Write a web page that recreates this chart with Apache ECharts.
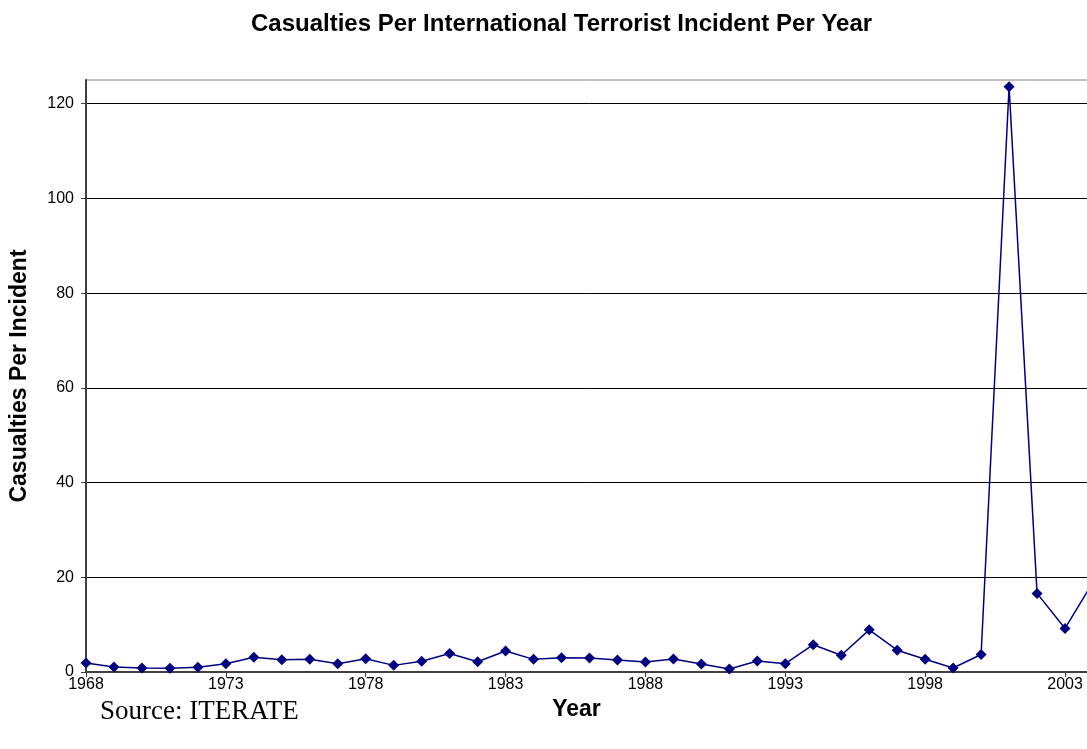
<!DOCTYPE html>
<html>
<head>
<meta charset="utf-8">
<script src="https://cdn.jsdelivr.net/npm/echarts@6/dist/echarts.min.js"></script>
<style>
  html, body { margin: 0; padding: 0; background: #fff; overflow: hidden; }
  #wrap { width: 1087px; height: 749px; overflow: hidden; }
  /* plot runs a few px past the right edge, like the original */
  #main { width: 1093px; height: 749px; }
</style>
</head>
<body>
<div id="wrap"><div id="main"></div></div>
<script>
// years on the x axis
const years = []
for (let y = 1968; y <= 2004; y++) years.push(String(y))

// casualties per incident
const casualties = [
  1.9, 1.05, 0.85, 0.77, 0.98, 1.76, 3.1, 2.6, 2.67, 1.76,
  2.8, 1.4, 2.25, 3.9, 2.18, 4.43, 2.67, 3.02, 2.95, 2.53,
  2.11, 2.74, 1.69, 0.63, 2.32, 1.75, 5.76, 3.55, 8.9, 4.6,
  2.7, 0.85, 3.7, 123.6, 16.6, 9.2, 19.0
]

const yTicks = [0, 20, 40, 60, 80, 100, 120]

const chart = echarts.init(document.getElementById('main'))
chart.setOption({
  animation: false,
  backgroundColor: '#fff',
  textStyle: { fontFamily: 'Liberation Sans, Arial, sans-serif' },
  title: [{
    text: 'Casualties Per International Terrorist Incident Per Year',
    left: 246,
    top: 7,
    textStyle: { fontSize: 24, fontWeight: 'bold', color: '#000' }
  }, {
    text: 'Source: ITERATE',
    left: 95,
    top: 693,
    textStyle: { fontSize: 27, fontWeight: 'normal', color: '#000', fontFamily: 'Liberation Serif, Times New Roman, serif' }
  }],
  grid: {
    left: 85,
    top: 80,
    right: 0,
    bottom: 77,
    show: true,
    borderColor: '#808080',
    borderWidth: 1
  },
  xAxis: {
    type: 'category',
    data: years,
    boundaryGap: false,
    name: 'Year',
    nameLocation: 'middle',
    nameGap: 24,
    nameTextStyle: { fontSize: 23, fontWeight: 'bold', color: '#000', padding: [0, 26, 0, 0] },
    axisLine: { lineStyle: { color: '#404040', width: 2 } },
    axisTick: { interval: 4, length: 5, lineStyle: { color: '#404040' } },
    axisLabel: { interval: 4, fontSize: 16, color: '#000', margin: 5 },
    splitLine: { show: false }
  },
  yAxis: {
    type: 'value',
    min: 0,
    max: 125,
    interval: 20,
    name: 'Casualties Per Incident',
    nameLocation: 'middle',
    nameRotate: 90,
    nameGap: 55,
    nameTextStyle: { fontSize: 23, fontWeight: 'bold', color: '#000' },
    axisLine: { show: true, lineStyle: { color: '#404040', width: 2 } },
    axisTick: { show: true, length: 5, lineStyle: { color: '#404040' } },
    axisLabel: {
      fontSize: 16,
      color: '#000',
      margin: 12,
      showMaxLabel: false,
      formatter: function (v) { return yTicks.indexOf(v) >= 0 ? v : '' }
    },
    splitLine: { show: true, showMaxLine: false, lineStyle: { color: '#000', width: 1 } }
  },
  series: [{
    type: 'line',
    data: casualties,
    symbol: 'diamond',
    symbolSize: 11,
    showAllSymbol: true,
    lineStyle: { color: '#000080', width: 1.5 },
    itemStyle: { color: '#000080' }
  }]
})
</script>
</body>
</html>
